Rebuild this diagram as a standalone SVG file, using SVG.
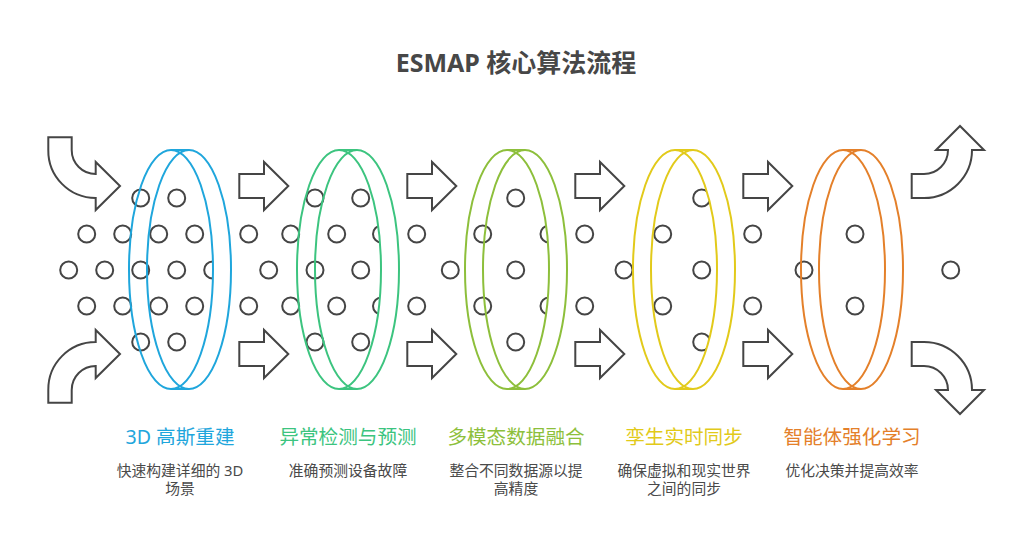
<svg xmlns="http://www.w3.org/2000/svg" xmlns:xlink="http://www.w3.org/1999/xlink" width="1032" height="538" viewBox="0 0 1032 538">
<style>
.ar{fill:#fff;stroke:#454545;stroke-width:2;stroke-linejoin:miter}
.dot{fill:none;stroke:#454545;stroke-width:2}
.ring{fill:none;stroke-width:2}
.mask{fill:#fff;stroke:none}
.title{font-family:"Noto Sans","Noto Sans CJK SC",sans-serif;font-weight:700;font-size:25px;fill:#474747;text-anchor:middle}
.lbl{font-family:"Noto Sans","Noto Sans CJK SC",sans-serif;font-size:19.6px;text-anchor:middle}
.desc{font-family:"Noto Sans","Noto Sans CJK SC",sans-serif;font-size:14.8px;fill:#4a4a4a;text-anchor:middle}
</style>
<defs>
<circle id="d" r="8.5" class="dot"/>
<path id="curv" d="M48.3 137.3 L71.7 137.3 L71.7 150 A24 24 0 0 0 95.7 174 L95.7 162 L120 186 L95.7 210 L95.7 198 A47.4 47.4 0 0 1 48.3 150 Z"/>
<path id="curvR" d="M911.7 174 L924 174 A24 24 0 0 0 948 150 L936 150 L960 126 L984 150 L972 150 A48 48 0 0 1 924 198 L911.7 198 Z"/>
<path id="str" d="M0 174 L24.7 174 L24.7 162 L49 186 L24.7 210 L24.7 198 L0 198 Z"/>
<g id="ringshape">
<ellipse cx="-9" cy="269.5" rx="42" ry="119.5"/>
<ellipse cx="9" cy="269.5" rx="42" ry="119.5"/>
<path d="M-9 150 L9 150 M-9 389 L9 389"/>
</g>
<path id="band" d="M-9 150 L9 150 A42 119.5 0 0 1 9 389 L-9 389 A42 119.5 0 0 0 -9 150 Z"/>
</defs>

<text class="title" x="516" y="72">ESMAP 核心算法流程</text>

<g id="connectors">
<use xlink:href="#curv" class="ar"/>
<use xlink:href="#curv" class="ar" transform="translate(0,540) scale(1,-1)"/>
<use xlink:href="#curvR" class="ar"/>
<use xlink:href="#curvR" class="ar" transform="translate(0,540) scale(1,-1)"/>
<use xlink:href="#str" class="ar" x="239.3"/>
<use xlink:href="#str" class="ar" x="407.3"/>
<use xlink:href="#str" class="ar" x="575.3"/>
<use xlink:href="#str" class="ar" x="743.3"/>
<g transform="translate(0,540) scale(1,-1)">
<use xlink:href="#str" class="ar" x="239.3"/>
<use xlink:href="#str" class="ar" x="407.3"/>
<use xlink:href="#str" class="ar" x="575.3"/>
<use xlink:href="#str" class="ar" x="743.3"/>
</g>
</g>

<g id="dots">
<use xlink:href="#d" x="140.7" y="198"/><use xlink:href="#d" x="176.7" y="198"/><use xlink:href="#d" x="315" y="198"/><use xlink:href="#d" x="360.7" y="198"/><use xlink:href="#d" x="515.7" y="198"/><use xlink:href="#d" x="701.7" y="198"/>
<use xlink:href="#d" x="140.7" y="342"/><use xlink:href="#d" x="176.7" y="342"/><use xlink:href="#d" x="315" y="342"/><use xlink:href="#d" x="360.7" y="342"/><use xlink:href="#d" x="515.7" y="342"/><use xlink:href="#d" x="701.7" y="342"/>
<use xlink:href="#d" x="86.7" y="234"/><use xlink:href="#d" x="122.7" y="234"/><use xlink:href="#d" x="158.7" y="234"/><use xlink:href="#d" x="194.7" y="234"/><use xlink:href="#d" x="248.7" y="234"/><use xlink:href="#d" x="290.7" y="234"/><use xlink:href="#d" x="336.7" y="234"/><use xlink:href="#d" x="381.5" y="234"/><use xlink:href="#d" x="416.7" y="234"/><use xlink:href="#d" x="482.7" y="234"/><use xlink:href="#d" x="549" y="234"/><use xlink:href="#d" x="584.7" y="234"/><use xlink:href="#d" x="662.7" y="234"/><use xlink:href="#d" x="752.7" y="234"/><use xlink:href="#d" x="855" y="234"/>
<use xlink:href="#d" x="86.7" y="306"/><use xlink:href="#d" x="122.7" y="306"/><use xlink:href="#d" x="158.7" y="306"/><use xlink:href="#d" x="194.7" y="306"/><use xlink:href="#d" x="248.7" y="306"/><use xlink:href="#d" x="290.7" y="306"/><use xlink:href="#d" x="336.7" y="306"/><use xlink:href="#d" x="381.5" y="306"/><use xlink:href="#d" x="416.7" y="306"/><use xlink:href="#d" x="482.7" y="306"/><use xlink:href="#d" x="549" y="306"/><use xlink:href="#d" x="584.7" y="306"/><use xlink:href="#d" x="662.7" y="306"/><use xlink:href="#d" x="752.7" y="306"/><use xlink:href="#d" x="855" y="306"/>
<use xlink:href="#d" x="68.7" y="270"/><use xlink:href="#d" x="104.7" y="270"/><use xlink:href="#d" x="140.7" y="270"/><use xlink:href="#d" x="176.7" y="270"/><use xlink:href="#d" x="212.7" y="270"/><use xlink:href="#d" x="268.7" y="270"/><use xlink:href="#d" x="315" y="270"/><use xlink:href="#d" x="360.7" y="270"/><use xlink:href="#d" x="450.3" y="270"/><use xlink:href="#d" x="515.7" y="270"/><use xlink:href="#d" x="624" y="270"/><use xlink:href="#d" x="701.7" y="270"/><use xlink:href="#d" x="804" y="270"/><use xlink:href="#d" x="950.7" y="270"/>
</g>

<g id="node1">
<use xlink:href="#band" class="mask" x="180"/>
<use xlink:href="#ringshape" class="ring" x="180" stroke="#1fa6dc"/>
<text class="lbl" x="180" y="444" fill="#1fa6dc">3D 高斯重建</text>
<text class="desc" x="180" y="476">快速构建详细的 3D</text>
<text class="desc" x="180" y="494">场景</text>
</g>
<g id="node2">
<use xlink:href="#band" class="mask" x="348"/>
<use xlink:href="#ringshape" class="ring" x="348" stroke="#3cc47f"/>
<text class="lbl" x="348" y="444" fill="#3cc47f">异常检测与预测</text>
<text class="desc" x="348" y="476">准确预测设备故障</text>
</g>
<g id="node3">
<use xlink:href="#band" class="mask" x="516"/>
<use xlink:href="#ringshape" class="ring" x="516" stroke="#8dbf3b"/>
<text class="lbl" x="516" y="444" fill="#8dbf3b">多模态数据融合</text>
<text class="desc" x="516" y="476">整合不同数据源以提</text>
<text class="desc" x="516" y="494">高精度</text>
</g>
<g id="node4">
<use xlink:href="#band" class="mask" x="684"/>
<use xlink:href="#ringshape" class="ring" x="684" stroke="#e2ca1a"/>
<text class="lbl" x="684" y="444" fill="#e2ca1a">孪生实时同步</text>
<text class="desc" x="684" y="476">确保虚拟和现实世界</text>
<text class="desc" x="684" y="494">之间的同步</text>
</g>
<g id="node5">
<use xlink:href="#band" class="mask" x="852"/>
<use xlink:href="#ringshape" class="ring" x="852" stroke="#e4802a"/>
<text class="lbl" x="852" y="444" fill="#e4802a">智能体强化学习</text>
<text class="desc" x="852" y="476">优化决策并提高效率</text>
</g>
</svg>
